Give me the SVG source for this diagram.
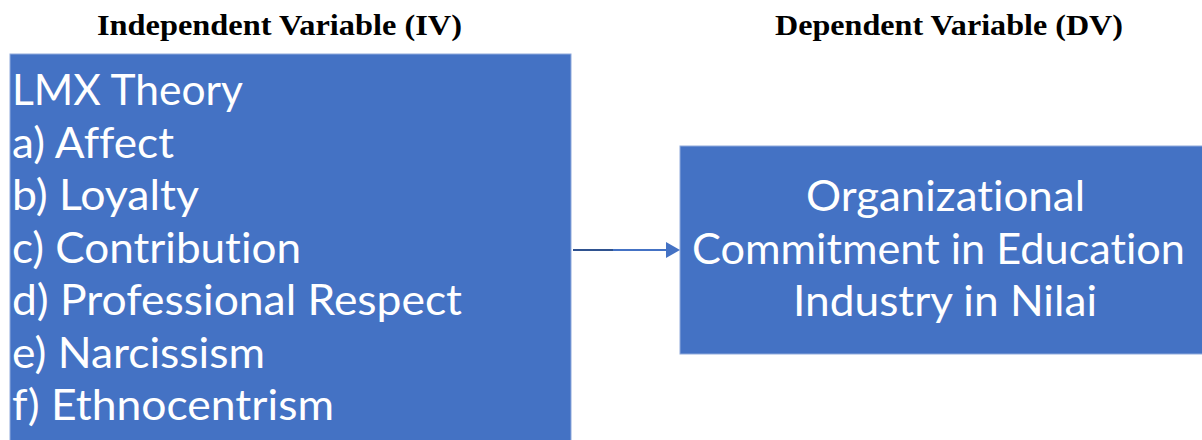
<svg xmlns="http://www.w3.org/2000/svg" width="1202" height="440" viewBox="0 0 1202 440">
<style>
.box{fill:#4472C4;stroke:#8FAADC;stroke-width:1}
.t{font-family:Lato,"Noto Sans","Liberation Sans",sans-serif;font-size:42px;fill:#ffffff;font-variant-ligatures:none;font-feature-settings:"liga" 0,"dlig" 0}
.h{font-family:"Liberation Serif","Times New Roman",serif;font-weight:bold;font-size:29px;fill:#000000}
</style>
<rect width="1202" height="440" fill="#ffffff"/>
<g id="heading-iv"><text class="h" x="97" y="35" textLength="365" lengthAdjust="spacingAndGlyphs">Independent Variable (IV)</text></g>
<g id="heading-dv"><text class="h" x="775" y="35" textLength="348" lengthAdjust="spacingAndGlyphs">Dependent Variable (DV)</text></g>
<g id="iv">
<rect class="box" x="10" y="54" width="561" height="400"/>
<text class="t" x="12" y="105" textLength="231" lengthAdjust="spacingAndGlyphs">LMX Theory</text>
<text class="t" x="12" y="157.5" textLength="162" lengthAdjust="spacingAndGlyphs">a) Affect</text>
<text class="t" x="12" y="210" textLength="187" lengthAdjust="spacingAndGlyphs">b) Loyalty</text>
<text class="t" x="12" y="262.5" textLength="289" lengthAdjust="spacingAndGlyphs">c) Contribution</text>
<text class="t" x="12" y="315" textLength="450" lengthAdjust="spacingAndGlyphs">d) Professional Respect</text>
<text class="t" x="12" y="367.5" textLength="253" lengthAdjust="spacingAndGlyphs">e) Narcissism</text>
<text class="t" x="12" y="420" textLength="322" lengthAdjust="spacingAndGlyphs">f) Ethnocentrism</text>
</g>
<g id="dv">
<rect class="box" x="680" y="146" width="540" height="208"/>
<text class="t" x="806" y="211" textLength="279" lengthAdjust="spacingAndGlyphs">Organizational</text>
<text class="t" x="692" y="263.5" textLength="493" lengthAdjust="spacingAndGlyphs">Commitment in Education</text>
<text class="t" x="793" y="316" textLength="304" lengthAdjust="spacingAndGlyphs">Industry in Nilai</text>
</g>
<g id="connectors">
<line x1="573" y1="250" x2="614" y2="250" stroke="#2F528F" stroke-width="2"/>
<line x1="613" y1="250" x2="667" y2="250" stroke="#4472C4" stroke-width="2"/>
<polygon points="666,242 680,250 666,258" fill="#4472C4"/>
</g>
</svg>
